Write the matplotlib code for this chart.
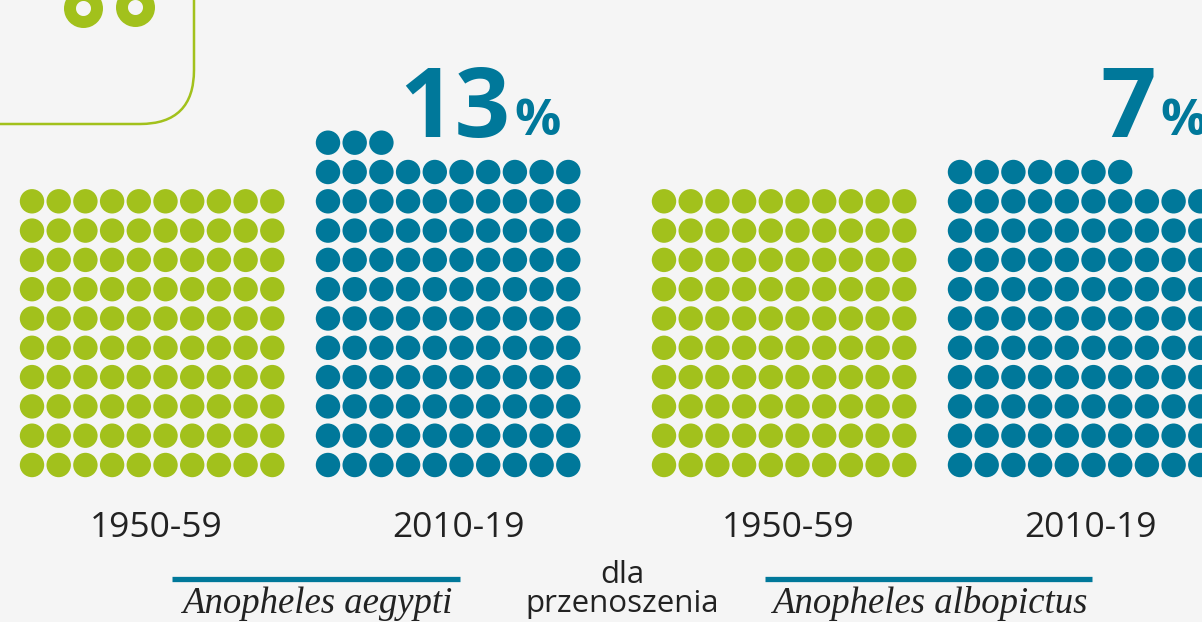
import matplotlib
matplotlib.use("Agg")
import matplotlib.pyplot as plt
from matplotlib.patches import Circle, FancyBboxPatch, Wedge

# data
periods = ["1950-59", "2010-19"]
species = ["Anopheles aegypti", "Anopheles albopictus"]
dots_aegypti = [100, 113]
dots_albopictus = [100, 107]
growth_pct = [13, 7]
middle_text = "dla\nprzenoszenia"

GREEN = "#a2c11c"
BLUE = "#00789a"
BG = "#f5f5f5"
TEXT = "#222222"

W, H = 1202, 622
fig = plt.figure(figsize=(W / 100, H / 100), dpi=100)
fig.patch.set_facecolor(BG)
ax = fig.add_axes([0, 0, 1, 1])
ax.set_xlim(0, W)
ax.set_ylim(H, 0)
ax.set_aspect("equal")
ax.axis("off")

COL_STEP = 26.7
ROW_STEP = 29.3
R = 12.2
BOTTOM_ROW = 465


def draw_dots(x0, n, color):
    for i in range(n):
        row, col = divmod(i, 10)
        ax.add_patch(Circle((x0 + col * COL_STEP, BOTTOM_ROW - row * ROW_STEP),
                            R, color=color, lw=0))


# quote box in the corner
ax.add_patch(FancyBboxPatch((-100, -100), 294, 224,
                            boxstyle="round,pad=0,rounding_size=54",
                            fc="none", ec=GREEN, lw=1.8))
for cx, cy in [(83.5, 8.5), (135.5, 7.5)]:
    ax.add_patch(Wedge((cx, cy), 19.5, 0, 360, width=12, color=GREEN, lw=0))

groups = [(dots_aegypti, [32, 328]), (dots_albopictus, [664, 960])]
label_x = [[156, 459], [788, 1091]]
for g, (counts, xs) in enumerate(groups):
    for k, (n, x0) in enumerate(zip(counts, xs)):
        draw_dots(x0, n, GREEN if k == 0 else BLUE)
        ax.text(label_x[g][k], 537, periods[k], ha="center", va="baseline",
                fontsize=25.5, family="Open Sans", color=TEXT)

# growth numbers
for x, pct in zip([399, 1100], growth_pct):
    ax.text(x, 137, str(pct), ha="left", va="baseline", fontsize=70,
            family="Open Sans", weight="bold", color=BLUE)
for x in [514, 1160]:
    ax.text(x, 135, "%", ha="left", va="baseline", fontsize=37,
            family="Open Sans", weight="bold", color=BLUE)

# species lines and names
for (x1, x2), name in zip([(172, 460), (765, 1092)], species):
    ax.plot([x1, x2], [579, 579], color=BLUE, lw=3.8, solid_capstyle="butt")
    ax.text((x1 + x2) / 2 + 1, 613, name, ha="center", va="baseline",
            fontsize=26.5, family="Liberation Serif", style="italic", color=TEXT)

for y, line in zip([583, 612], middle_text.split("\n")):
    ax.text(622, y, line, ha="center", va="baseline", fontsize=22.5,
            family="Open Sans", color=TEXT)

fig.savefig("out.png", dpi=100, facecolor=BG)
